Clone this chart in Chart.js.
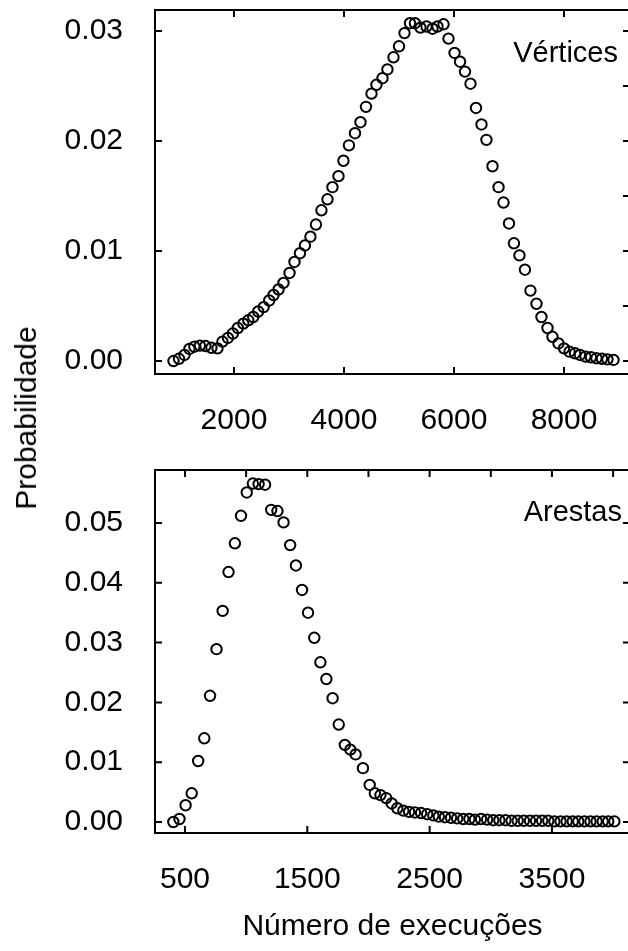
<!DOCTYPE html>
<html>
<head>
<meta charset="utf-8">
<script src="https://cdn.jsdelivr.net/npm/chart.js@4"></script>
<style>
  html, body { margin: 0; padding: 0; background: #fff; overflow: hidden; }
  #wrap { position: relative; width: 628px; height: 951px; overflow: hidden; }
  canvas { position: absolute; left: 0; }
  #vert { top: 0; }
  #edge { top: 460px; }
  #ylab {
    position: absolute; left: 26px; top: 418px;
    transform: translate(-50%, -50%) rotate(-90deg);
    font: 30px 'Liberation Sans', Arial, sans-serif; line-height: 1;
    white-space: nowrap; color: #000;
  }
</style>
</head>
<body>
<div id="wrap">
  <canvas id="vert" width="632" height="460"></canvas>
  <canvas id="edge" width="632" height="491"></canvas>
  <div id="ylab">Probabilidade</div>
</div>

<script>
// Vértices
const vertX = [900, 1000, 1100, 1190, 1280, 1380, 1480, 1590, 1700, 1790,
  1890, 1980, 2070, 2170, 2260, 2350, 2440, 2540, 2640, 2720,
  2810, 2900, 3010, 3100, 3200, 3290, 3390, 3490, 3590, 3700,
  3790, 3900, 3990, 4090, 4200, 4300, 4400, 4500, 4590, 4700,
  4790, 4900, 5000, 5100, 5200, 5290, 5390, 5500, 5610, 5700,
  5810, 5900, 6010, 6110, 6200, 6300, 6400, 6500, 6590, 6700,
  6810, 6900, 7000, 7090, 7190, 7290, 7390, 7500, 7590, 7700,
  7790, 7900, 8000, 8100, 8200, 8290, 8390, 8490, 8590, 8690,
  8790, 8900];
const vertY = [0.0000, 0.0002, 0.00055, 0.0011, 0.0013, 0.0014, 0.00136, 0.0012, 0.00115, 0.00176,
  0.0021, 0.0025, 0.0030, 0.0034, 0.0037, 0.0040, 0.0045, 0.0049, 0.0055, 0.0060,
  0.0065, 0.0071, 0.0080, 0.0090, 0.0098, 0.0105, 0.0113, 0.0124, 0.0137, 0.0147,
  0.0158, 0.0168, 0.0182, 0.0196, 0.0207, 0.0217, 0.0231, 0.0243, 0.0251, 0.0257,
  0.0265, 0.0276, 0.0286, 0.0298, 0.0307, 0.0307, 0.0303, 0.0304, 0.0302, 0.0304,
  0.0306, 0.0293, 0.0280, 0.0272, 0.0263, 0.0252, 0.0230, 0.0215, 0.0201, 0.0177,
  0.0158, 0.0144, 0.0125, 0.0107, 0.0096, 0.0083, 0.0064, 0.0052, 0.0040, 0.0030,
  0.0022, 0.0016, 0.00115, 0.00085, 0.0007, 0.00055, 0.0004, 0.00034, 0.00025, 0.0002,
  0.00015, 0.0001];

// Arestas
const edgeX = [405, 455, 505, 555, 608, 658, 705, 758, 808, 856,
  908, 958, 1005, 1055, 1102, 1155, 1205, 1256, 1306, 1360,
  1407, 1457, 1506, 1557, 1607, 1656, 1707, 1757, 1807, 1852,
  1895, 1955, 2010, 2052, 2098, 2145, 2190, 2236, 2285, 2332,
  2380, 2430, 2480, 2530, 2575, 2625, 2675, 2725, 2775, 2825,
  2870, 2920, 2970, 3020, 3070, 3120, 3170, 3220, 3270, 3320,
  3370, 3420, 3470, 3520, 3570, 3620, 3670, 3715, 3765, 3815,
  3865, 3915, 3960, 4010];
const edgeY = [0.0000, 0.0005, 0.0028, 0.0048, 0.0102, 0.0140, 0.0211, 0.0289, 0.0353, 0.0418,
  0.0466, 0.0512, 0.0551, 0.0566, 0.0565, 0.0564, 0.0522, 0.0520, 0.0501, 0.0463,
  0.0429, 0.0388, 0.0350, 0.0308, 0.0267, 0.0239, 0.0207, 0.0163, 0.0129, 0.0121,
  0.0113, 0.0090, 0.0062, 0.0048, 0.0045, 0.0040, 0.0031, 0.0023, 0.0019, 0.0017,
  0.0016, 0.0015, 0.0013, 0.0011, 0.0009, 0.0008, 0.0007, 0.0006, 0.0005, 0.0005,
  0.0004, 0.0005, 0.0004, 0.0003, 0.0003, 0.0003, 0.0002, 0.0002, 0.0002, 0.0002,
  0.0002, 0.0002, 0.0002, 0.0001, 0.0001, 0.0001, 0.0001, 0.0001, 0.0001, 0.0001,
  0.0001, 0.0001, 0.0001, 0.0001];

// ticks
const vertXTicks = [2000, 4000, 6000, 8000];
const vertYTicks = [0, 0.01, 0.02, 0.03];
const vertYRight = [0, 0.005, 0.01, 0.015, 0.02, 0.025, 0.03];
const edgeXTicks = [500, 1500, 2500, 3500];
const edgeXTop = [500, 1000, 1500, 2000, 2500, 3000, 3500, 4000];
const edgeYTicks = [0, 0.01, 0.02, 0.03, 0.04, 0.05];

const FONT = "'Liberation Sans', Arial, Helvetica, sans-serif";
Chart.defaults.font.family = FONT;
Chart.defaults.font.size = 30;
Chart.defaults.color = '#000';

// box around the plot with inward tick marks and the panel label
const framePlugin = {
  id: 'frame',
  afterDatasetsDraw(chart, args, opts) {
    const { ctx, chartArea: a } = chart;
    const x = chart.scales.x, y = chart.scales.y;
    const len = 7;
    ctx.save();
    ctx.strokeStyle = '#000';
    ctx.lineWidth = 2;
    ctx.strokeRect(a.left, a.top, a.right - a.left, a.bottom - a.top);
    ctx.beginPath();
    opts.bottom.forEach(v => { const p = x.getPixelForValue(v); ctx.moveTo(p, a.bottom); ctx.lineTo(p, a.bottom - len); });
    opts.top.forEach(v => { const p = x.getPixelForValue(v); ctx.moveTo(p, a.top); ctx.lineTo(p, a.top + len); });
    opts.left.forEach(v => { const p = y.getPixelForValue(v); ctx.moveTo(a.left, p); ctx.lineTo(a.left + len, p); });
    opts.right.forEach(v => { const p = y.getPixelForValue(v); ctx.moveTo(a.right, p); ctx.lineTo(a.right - len, p); });
    ctx.stroke();
    ctx.fillStyle = '#000';
    ctx.font = '29px ' + FONT;
    ctx.textAlign = 'right';
    ctx.textBaseline = 'middle';
    ctx.fillText(opts.label, a.right - opts.labelDx, a.top + opts.labelDy);
    ctx.restore();
  }
};

// fixed axis sizes, and no extra room for overhanging tick labels
function fixBox(s, size) {
  if (s.isHorizontal()) s.height = size; else s.width = size;
  s.paddingTop = s.paddingBottom = s.paddingLeft = s.paddingRight = 0;
}

function makePanel(id, xs, ys, cfg) {
  return new Chart(document.getElementById(id), {
    type: 'scatter',
    data: {
      datasets: [{
        data: xs.map((v, i) => ({ x: v, y: ys[i] })),
        pointStyle: 'circle',
        pointRadius: 5.2,
        borderWidth: 2,
        borderColor: '#000',
        backgroundColor: 'rgba(0,0,0,0)'
      }]
    },
    options: {
      responsive: false,
      animation: false,
      events: [],
      layout: { autoPadding: false, padding: { top: 10, right: 2, left: 0, bottom: 0 } },
      plugins: {
        legend: { display: false },
        tooltip: { enabled: false },
        frame: cfg.frame
      },
      scales: {
        x: {
          type: 'linear',
          min: cfg.xMin,
          max: cfg.xMax,
          grid: { display: false, drawTicks: false },
          border: { display: false },
          afterBuildTicks: s => { s.ticks = cfg.xTicks.map(v => ({ value: v })); },
          afterFit: s => fixBox(s, cfg.xHeight),
          ticks: { padding: 29, maxRotation: 0, autoSkip: false, callback: v => String(v) },
          title: cfg.xTitle
        },
        y: {
          type: 'linear',
          min: cfg.yMin,
          max: cfg.yMax,
          grid: { display: false, drawTicks: false },
          border: { display: false },
          afterBuildTicks: s => { s.ticks = cfg.yTicks.map(v => ({ value: v })); },
          afterFit: s => fixBox(s, 155),
          ticks: { padding: 32, autoSkip: false, callback: v => v.toFixed(2) }
        }
      }
    },
    plugins: [framePlugin]
  });
}

makePanel('vert', vertX, vertY, {
  xMin: 564, xMax: 9200, yMin: -0.00118, yMax: 0.0319,
  xTicks: vertXTicks, yTicks: vertYTicks, xHeight: 86,
  xTitle: { display: false },
  frame: { bottom: vertXTicks, top: vertXTicks, left: vertYTicks, right: vertYRight,
           label: 'Vértices', labelDx: 12, labelDy: 44 }
});

makePanel('edge', edgeX, edgeY, {
  xMin: 255, xMax: 4138, yMin: -0.00184, yMax: 0.05886,
  xTicks: edgeXTicks, yTicks: edgeYTicks, xHeight: 118,
  xTitle: { display: true, text: 'Número de execuções', padding: { top: 0, bottom: 6 } },
  frame: { bottom: edgeXTicks, top: edgeXTop, left: edgeYTicks, right: edgeYTicks,
           label: 'Arestas', labelDx: 8, labelDy: 43 }
});
</script>
</body>
</html>
